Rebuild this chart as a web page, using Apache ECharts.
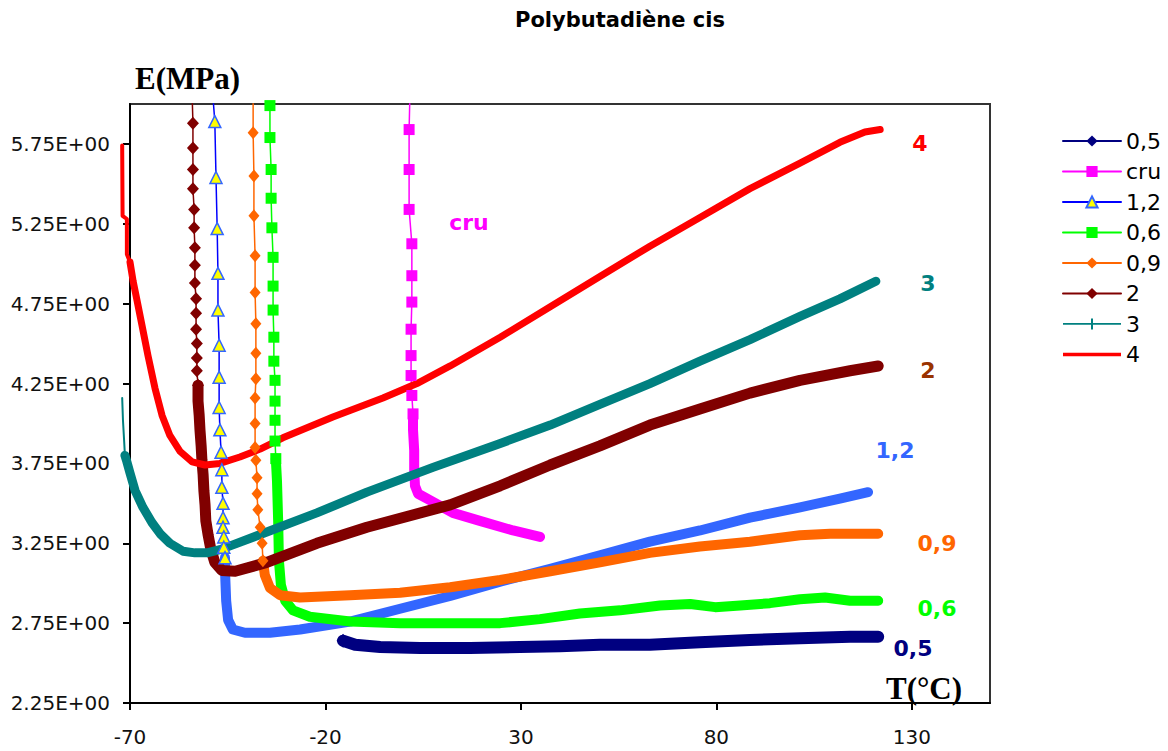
<!DOCTYPE html>
<html><head><meta charset="utf-8">
<script src="https://cdn.jsdelivr.net/npm/echarts@6/dist/echarts.min.js"></script>
<style>html,body{margin:0;padding:0;background:#fff}#c{width:1168px;height:751px}</style>
</head><body><div id="c"></div>
<script>
// ---- data (T in °C, E in MPa) ----
const T_TICKS = [-70, -20, 30, 80, 130];
const E_TICKS = [2.25, 2.75, 3.25, 3.75, 4.25, 4.75, 5.25, 5.75];
const LEGEND_NAMES = ['0,5', 'cru', '1,2', '0,6', '0,9', '2', '3', '4'];

const s05Band = [[-15.5,2.64],[-12.4,2.615],[-6.0,2.60],[4.2,2.595],[17.0,2.595],[29.8,2.60],[40.0,2.605],[50.2,2.615],[63.0,2.615],[75.8,2.63],[88.6,2.645],[101.4,2.655],[114.2,2.665],[121.4,2.665]];

const cruPts = [[1.6,6.05],[1.4,5.84],[1.4,5.59],[1.4,5.34],[2.1,5.125],[2.1,4.925],[2.1,4.76],[1.9,4.59],[1.9,4.425],[1.9,4.30],[2.1,4.175],[2.4,4.06]];
const cruBand = [[2.4,4.06],[2.4,3.96],[2.7,3.83],[2.7,3.71],[2.9,3.61],[3.7,3.56],[6.7,3.52],[12.6,3.44],[19.5,3.39],[28.0,3.33],[34.9,3.29]];

const s12Pts = [[-48.8,6.05],[-48.3,5.89],[-48.0,5.54],[-47.7,5.22],[-47.5,4.94],[-47.5,4.71],[-47.2,4.49],[-47.2,4.29],[-47.2,4.10],[-47.0,3.96],[-46.7,3.82],[-46.5,3.71],[-46.5,3.60],[-46.2,3.50],[-46.2,3.41],[-46.2,3.35],[-46.0,3.29],[-46.0,3.225],[-45.7,3.16]];
const s12Band = [[-45.7,3.16],[-45.7,3.08],[-45.4,2.89],[-44.9,2.77],[-43.7,2.71],[-40.6,2.69],[-34.2,2.69],[-26.5,2.71],[-13.7,2.76],[-0.9,2.84],[11.9,2.92],[24.7,3.01],[37.5,3.09],[50.2,3.175],[63.0,3.26],[75.8,3.33],[88.6,3.41],[101.4,3.475],[111.6,3.53],[118.8,3.57]];

const s06Pts = [[-34.2,6.05],[-34.2,5.99],[-34.2,5.79],[-33.9,5.59],[-33.9,5.41],[-33.7,5.225],[-33.4,5.04],[-33.4,4.86],[-33.4,4.71],[-33.2,4.54],[-33.2,4.39],[-32.9,4.27],[-32.9,4.14],[-32.9,4.02],[-32.9,3.89],[-32.7,3.78]];
const s06Band = [[-32.7,3.78],[-32.4,3.64],[-32.1,3.39],[-31.9,3.14],[-31.4,2.99],[-30.3,2.89],[-28.3,2.83],[-24.0,2.79],[-13.7,2.76],[-0.9,2.75],[11.9,2.75],[24.7,2.75],[34.9,2.775],[45.1,2.81],[55.4,2.83],[65.6,2.86],[73.3,2.87],[79.7,2.85],[86.1,2.86],[93.7,2.875],[101.4,2.90],[107.8,2.91],[114.2,2.89],[121.4,2.89]];

const s09Pts = [[-38.5,6.05],[-38.5,5.82],[-38.3,5.55],[-38.3,5.30],[-38.0,5.05],[-38.0,4.82],[-37.8,4.625],[-37.8,4.44],[-37.8,4.28],[-38.0,4.16],[-38.0,4.00],[-38.0,3.85],[-37.8,3.77],[-37.5,3.66],[-37.5,3.56],[-37.3,3.46],[-36.7,3.35],[-36.2,3.25],[-36.0,3.14]];
const s09Band = [[-36.0,3.14],[-35.5,3.05],[-34.2,2.97],[-31.6,2.925],[-26.5,2.91],[-13.7,2.925],[-0.9,2.94],[11.9,2.975],[24.7,3.02],[37.5,3.075],[50.2,3.13],[63.0,3.19],[75.8,3.23],[88.6,3.26],[101.4,3.30],[109.1,3.31],[121.4,3.31]];

const s2Pts = [[-54.1,6.05],[-53.9,5.88],[-53.9,5.725],[-53.9,5.59],[-53.9,5.47],[-53.6,5.34],[-53.6,5.225],[-53.4,5.10],[-53.4,4.99],[-53.4,4.88],[-53.1,4.78],[-53.1,4.69],[-53.1,4.59],[-52.9,4.50],[-52.9,4.41],[-52.9,4.33],[-52.6,4.24]];
const s2Band = [[-52.6,4.24],[-52.6,4.14],[-52.3,4.05],[-52.1,3.96],[-51.8,3.86],[-51.6,3.77],[-51.3,3.68],[-51.1,3.58],[-50.8,3.49],[-50.6,3.39],[-50.0,3.30],[-49.3,3.21],[-48.3,3.13],[-46.5,3.08],[-43.1,3.075],[-35.0,3.13],[-22.2,3.25],[-9.4,3.35],[11.9,3.49],[24.7,3.61],[37.5,3.74],[50.2,3.86],[63.0,3.99],[75.8,4.09],[88.6,4.19],[101.4,4.27],[114.2,4.33],[121.4,4.36]];

const s3Pts = [[-72.0,4.16],[-71.8,4.02],[-71.5,3.89],[-71.3,3.80]];
const s3Band = [[-71.3,3.80],[-70.8,3.76],[-70.0,3.69],[-68.7,3.58],[-66.7,3.475],[-64.4,3.38],[-62.3,3.31],[-59.8,3.25],[-56.4,3.20],[-53.4,3.19],[-50.3,3.19],[-47.0,3.21],[-43.7,3.24],[-35.0,3.32],[-22.2,3.44],[-9.4,3.57],[7.5,3.725],[24.7,3.875],[37.5,3.99],[50.2,4.12],[63.0,4.25],[75.8,4.39],[88.6,4.525],[101.4,4.67],[111.6,4.78],[120.8,4.89]];

const s4Thin = [[-72.0,5.74],[-71.9,5.30],[-70.8,5.28],[-70.8,5.06],[-70.0,5.01]];
const s4Band = [[-70.0,5.01],[-69.2,4.89],[-68.2,4.77],[-66.9,4.61],[-65.4,4.425],[-63.6,4.22],[-61.8,4.05],[-59.8,3.925],[-57.2,3.825],[-54.1,3.76],[-50.8,3.74],[-47.0,3.75],[-41.9,3.79],[-36.7,3.84],[-30.9,3.91],[-18.1,4.04],[-5.3,4.16],[3.4,4.25],[11.9,4.36],[24.7,4.54],[37.5,4.73],[50.2,4.92],[63.0,5.11],[75.8,5.29],[88.6,5.47],[101.4,5.63],[111.6,5.76],[118.0,5.825],[121.9,5.84]];

// ---- layout / styling ----
const PX_PER_DEG = 860 / 220;          // grid width / x range
const T_MIN_WIDE = -75;                // hidden wider grid for marks left of the axis
function line(name, data, o) {
  return {
    type: 'line', name: name, data: data,
    xAxisIndex: o.wide ? 1 : 0, yAxisIndex: o.wide ? 1 : 0,
    clip: o.clip !== false,
    symbol: o.symbol || 'none',
    showSymbol: !!o.symbol,
    symbolSize: o.size || 10,
    itemStyle: { color: o.fill || o.color, borderColor: o.border || o.fill || o.color, borderWidth: o.bw || 0 },
    lineStyle: { color: o.color, width: o.width, cap: 'round', join: 'round' },
    emphasis: { disabled: true },
    silent: true,
    z: o.z || 2
  };
}

const NAVY = '#000080', MAG = '#FF00FF', BLUE = '#0000FF', LBLUE = '#3366FF', GREEN = '#00FF00',
      ORANGE = '#FF6600', BROWN = '#800000', TEAL = '#008080', RED = '#FF0000';

const series = [
  line('0,5', s05Band.slice(0, 1), { color: NAVY, width: 1.5, symbol: 'diamond', size: [13, 14] }),
  line('0,5', s05Band, { color: NAVY, width: 12 }),
  line('cru', cruPts, { color: MAG, width: 1.5, symbol: 'rect', size: 11 }),
  line('cru', cruBand, { color: MAG, width: 10 }),
  line('1,2', s12Pts, { color: BLUE, width: 1.5, symbol: 'triangle', size: 12, fill: '#FFFF00', border: LBLUE, bw: 1.5 }),
  line('1,2', s12Band, { color: LBLUE, width: 10 }),
  line('0,6', s06Pts, { color: GREEN, width: 1.5, symbol: 'rect', size: 11 }),
  line('0,6', s06Band, { color: GREEN, width: 10 }),
  line('0,9', s09Pts, { color: ORANGE, width: 1.5, symbol: 'diamond', size: [11, 13] }),
  line('0,9', s09Band, { color: ORANGE, width: 10 }),
  line('2', s2Pts, { color: BROWN, width: 1.5, symbol: 'diamond', size: [12, 13] }),
  line('2', s2Band, { color: BROWN, width: 11 }),
  line('3', s3Pts, { color: TEAL, width: 2, wide: true }),
  line('3', s3Band, { color: TEAL, width: 9, wide: true }),
  line('4', s4Band, { color: RED, width: 7, wide: true }),
  line('4', s4Thin, { color: RED, width: 4, wide: true })
];

const axisFont = { fontFamily: 'DejaVu Sans', fontSize: 20, color: '#111' };
const inFont = 'bold 22px "DejaVu Sans"';
const hiddenAxis = { show: false, splitLine: { show: false } };

const option = {
  animation: false,
  backgroundColor: '#fff',
  grid: [
    { left: 130, right: 178, top: 104, bottom: 48, show: true, borderColor: '#333', borderWidth: 2, backgroundColor: 'transparent' },
    { left: 130 - (-70 - T_MIN_WIDE) * PX_PER_DEG, right: 178, top: 104, bottom: 48, show: false }
  ],
  xAxis: [{
    type: 'value', min: -70, max: 150, interval: 50, gridIndex: 0,
    axisLine: { show: true, onZero: false, lineStyle: { color: '#000', width: 2 } },
    axisTick: { show: true, inside: false, length: 7, customValues: T_TICKS, lineStyle: { color: '#000', width: 2 } },
    axisLabel: Object.assign({ customValues: T_TICKS, margin: 24 }, axisFont),
    splitLine: { show: false }
  }, Object.assign({ type: 'value', min: T_MIN_WIDE, max: 150, gridIndex: 1 }, hiddenAxis)],
  yAxis: [{
    type: 'value', min: 2.25, max: 6.0, interval: 0.5, gridIndex: 0,
    axisLine: { show: true, onZero: false, lineStyle: { color: '#000', width: 2 } },
    axisTick: { show: true, inside: false, length: 7, customValues: E_TICKS, lineStyle: { color: '#000', width: 2 } },
    axisLabel: Object.assign({ customValues: E_TICKS, margin: 20, formatter: v => v.toFixed(2) + 'E+00' }, axisFont),
    splitLine: { show: false }
  }, Object.assign({ type: 'value', min: 2.25, max: 6.0, gridIndex: 1 }, hiddenAxis)],
  legend: {
    data: LEGEND_NAMES.map(n => n === '4' ? { name: n, icon: 'path://M0,0h58v3.5h-58z' }
                          : n === '3' ? { name: n, icon: 'path://M0,4.6h58v1.6h-58z M28,0h2v11h-2z' } : n),
    orient: 'vertical', left: 1057, top: 125,
    itemWidth: 58, itemHeight: 14, itemGap: 8.5, selectedMode: false,
    textStyle: { fontFamily: 'DejaVu Sans', fontSize: 22, lineHeight: 21, color: '#000' }
  },
  graphic: [
    { type: 'text', x: 620, y: 20, style: { text: 'Polybutadiène cis', font: 'bold 21px "DejaVu Sans"', fill: '#000', textAlign: 'center', textVerticalAlign: 'middle' } },
    { type: 'text', x: 135, y: 78, style: { text: 'E(MPa)', font: 'bold 31px "Liberation Serif"', fill: '#000', textAlign: 'left', textVerticalAlign: 'middle' } },
    { type: 'text', x: 924, y: 688, style: { text: 'T(°C)', font: 'bold 31px "Liberation Serif"', fill: '#000', textAlign: 'center', textVerticalAlign: 'middle' } },
    { type: 'text', x: 469, y: 222, style: { text: 'cru', font: inFont, fill: MAG, textAlign: 'center', textVerticalAlign: 'middle' } },
    { type: 'text', x: 920, y: 143, style: { text: '4', font: inFont, fill: RED, textAlign: 'center', textVerticalAlign: 'middle' } },
    { type: 'text', x: 928, y: 283, style: { text: '3', font: inFont, fill: TEAL, textAlign: 'center', textVerticalAlign: 'middle' } },
    { type: 'text', x: 928, y: 370, style: { text: '2', font: inFont, fill: '#993300', textAlign: 'center', textVerticalAlign: 'middle' } },
    { type: 'text', x: 895, y: 450, style: { text: '1,2', font: inFont, fill: LBLUE, textAlign: 'center', textVerticalAlign: 'middle' } },
    { type: 'text', x: 937, y: 543, style: { text: '0,9', font: inFont, fill: ORANGE, textAlign: 'center', textVerticalAlign: 'middle' } },
    { type: 'text', x: 937, y: 608, style: { text: '0,6', font: inFont, fill: GREEN, textAlign: 'center', textVerticalAlign: 'middle' } },
    { type: 'text', x: 913, y: 648, style: { text: '0,5', font: inFont, fill: NAVY, textAlign: 'center', textVerticalAlign: 'middle' } }
  ],
  series: series
};

const chart = echarts.init(document.getElementById('c'), null, { renderer: 'svg', width: 1168, height: 751 });
chart.setOption(option);
</script></body></html>
